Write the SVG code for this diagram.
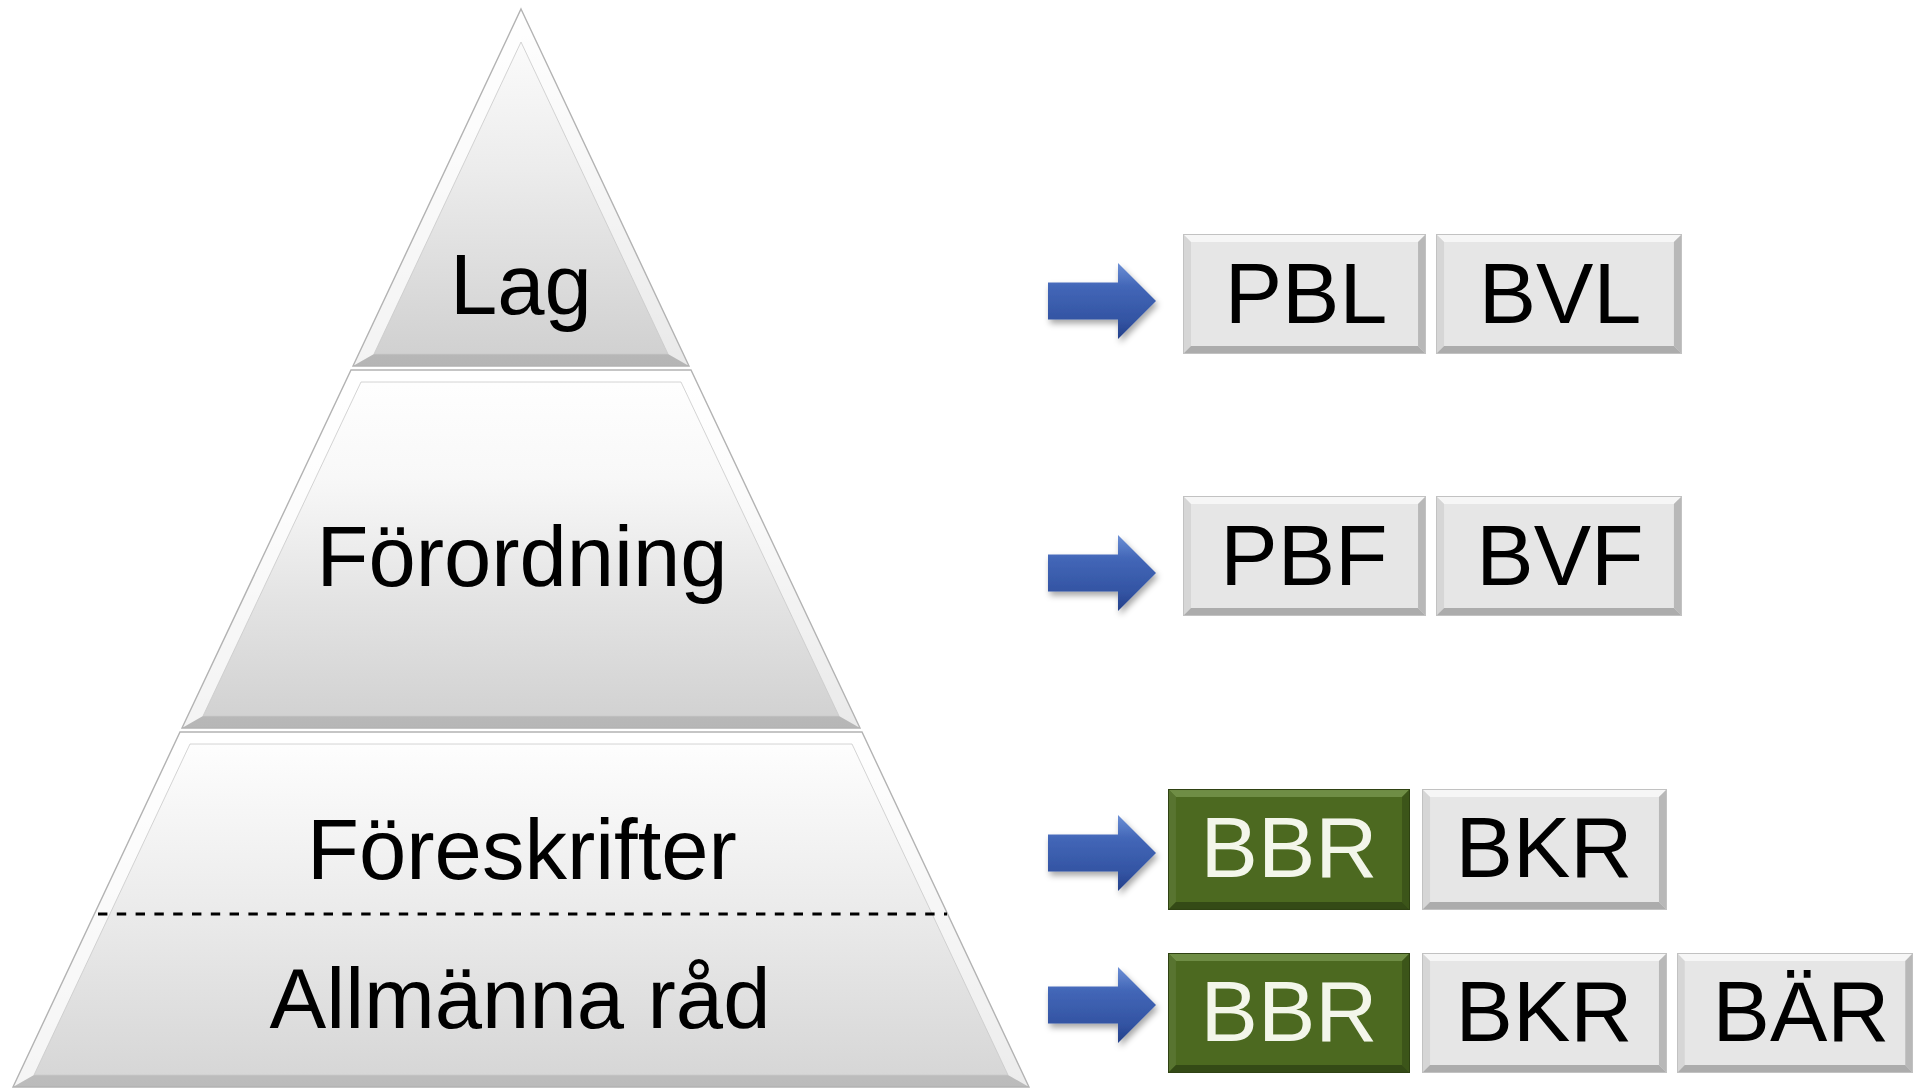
<svg xmlns="http://www.w3.org/2000/svg" xmlns:xlink="http://www.w3.org/1999/xlink" width="1915" height="1088" viewBox="0 0 1915 1088">
  <style>
    .lbl { font-family: "Liberation Sans", Arial, sans-serif; font-size: 86px; text-anchor: middle; fill: #000000; }
    .plbl { font-size: 85px; }
    .lblw { fill: #f3f6ea; }
    .edge { fill: none; stroke: #b3b3b3; stroke-width: 1.4; }
    .fl { fill: #ffffff; fill-opacity: 0.75; }
    .fr { fill: #ffffff; fill-opacity: 0.55; }
    .ft { fill: #ffffff; fill-opacity: 0.8; }
    .fb { fill: #000000; fill-opacity: 0.12; }
    .inner { fill: none; stroke: #c9c9c9; stroke-width: 0.8; }
  </style>
  <defs>
    <linearGradient id="gLag" x1="0" y1="0" x2="0" y2="1">
      <stop offset="0" stop-color="#ffffff"/>
      <stop offset="0.45" stop-color="#ececec"/>
      <stop offset="1" stop-color="#cfcfcf"/>
    </linearGradient>
    <linearGradient id="gMid" x1="0" y1="0" x2="0" y2="1">
      <stop offset="0" stop-color="#ffffff"/>
      <stop offset="0.3" stop-color="#f8f8f8"/>
      <stop offset="0.65" stop-color="#e3e3e3"/>
      <stop offset="1" stop-color="#d0d0d0"/>
    </linearGradient>
    <linearGradient id="gBot" x1="0" y1="0" x2="0" y2="1">
      <stop offset="0" stop-color="#ffffff"/>
      <stop offset="0.5" stop-color="#ebebeb"/>
      <stop offset="1" stop-color="#d5d5d5"/>
    </linearGradient>
    <linearGradient id="gArrow" x1="0" y1="0" x2="0" y2="1">
      <stop offset="0" stop-color="#6d90d6"/>
      <stop offset="0.3" stop-color="#4367b8"/>
      <stop offset="0.75" stop-color="#3354a3"/>
      <stop offset="1" stop-color="#24408a"/>
    </linearGradient>
    <filter id="shadow" x="-20%" y="-30%" width="150%" height="170%">
      <feDropShadow dx="2" dy="4" stdDeviation="3" flood-color="#000000" flood-opacity="0.35"/>
    </filter>
    <path id="arrowShape" d="M1048,-18.5 L1118,-18.5 L1118,-38 L1156,0 L1118,38 L1118,18.5 L1048,18.5 Z"/>
    <symbol id="bevelGray" viewBox="0 0 244 120" preserveAspectRatio="none">
      <rect width="244" height="120" fill="#e6e6e6"/>
      <polygon points="0,0 244,0 236,8 8,8" fill="#f6f6f6"/>
      <polygon points="0,0 8,8 8,112 0,120" fill="#d6d6d6"/>
      <polygon points="244,0 244,120 236,112 236,8" fill="#b8b8b8"/>
      <polygon points="0,120 8,112 236,112 244,120" fill="#acacac"/>
      <rect x="0.5" y="0.5" width="243" height="119" fill="none" stroke="#c2c2c2" stroke-width="1"/>
    </symbol>
    <symbol id="bevelGreen" viewBox="0 0 244 120" preserveAspectRatio="none">
      <rect width="244" height="120" fill="#4c6920"/>
      <polygon points="0,0 244,0 236,8 8,8" fill="#6f8d45"/>
      <polygon points="0,0 8,8 8,112 0,120" fill="#587430"/>
      <polygon points="244,0 244,120 236,112 236,8" fill="#3c5519"/>
      <polygon points="0,120 8,112 236,112 244,120" fill="#344a16"/>
      <rect x="0.5" y="0.5" width="243" height="119" fill="none" stroke="#2f4213" stroke-width="1"/>
    </symbol>
  </defs>

  <rect width="1915" height="1088" fill="#ffffff"/>

  <g id="pyramid">
    <g id="level-lag">
      <polygon points="521,9 689,366 353,366" fill="url(#gLag)"/>
      <polygon class="fl" points="521,9 521,42 374,354 353,366"/>
      <polygon class="fr" points="521,9 689,366 668,354 521,42"/>
      <polygon class="fb" points="353,366 374,354 668,354 689,366"/>
      <polygon class="inner" points="521,42 668,354 374,354"/>
      <polygon class="edge" points="521,9 689,366 353,366"/>
      <text class="lbl plbl" x="521" y="314">Lag</text>
    </g>
    <g id="level-forordning">
      <polygon points="351,370 691,370 860,728 182,728" fill="url(#gMid)"/>
      <polygon class="ft" points="351,370 691,370 681,382 361,382"/>
      <polygon class="fl" points="351,370 361,382 203,716 182,728"/>
      <polygon class="fr" points="691,370 860,728 839,716 681,382"/>
      <polygon class="fb" points="182,728 203,716 839,716 860,728"/>
      <polygon class="inner" points="361,382 681,382 839,716 203,716"/>
      <polygon class="edge" points="351,370 691,370 860,728 182,728"/>
      <text class="lbl plbl" x="522" y="586">Förordning</text>
    </g>
    <g id="level-foreskrifter-allmanna-rad">
      <polygon points="180,732 862,732 1029,1087 13,1087" fill="url(#gBot)"/>
      <polygon class="ft" points="180,732 862,732 852,744 190,744"/>
      <polygon class="fl" points="180,732 190,744 34,1075 13,1087"/>
      <polygon class="fr" points="862,732 1029,1087 1008,1075 852,744"/>
      <polygon class="fb" points="13,1087 34,1075 1008,1075 1029,1087"/>
      <polygon class="inner" points="190,744 852,744 1008,1075 34,1075"/>
      <polygon class="edge" points="180,732 862,732 1029,1087 13,1087"/>
      <text class="lbl plbl" x="522" y="879">Föreskrifter</text>
      <line x1="98" y1="914" x2="947" y2="914" stroke="#000000" stroke-width="3" stroke-dasharray="9.4 9.4"/>
      <text class="lbl plbl" x="520" y="1028">Allmänna råd</text>
    </g>
  </g>

  <g id="connectors">
    <use href="#arrowShape" xlink:href="#arrowShape" y="301" fill="url(#gArrow)" filter="url(#shadow)"/>
    <use href="#arrowShape" xlink:href="#arrowShape" y="573" fill="url(#gArrow)" filter="url(#shadow)"/>
    <use href="#arrowShape" xlink:href="#arrowShape" y="853" fill="url(#gArrow)" filter="url(#shadow)"/>
    <use href="#arrowShape" xlink:href="#arrowShape" y="1005" fill="url(#gArrow)" filter="url(#shadow)"/>
  </g>

  <g id="box-PBL">
    <use href="#bevelGray" xlink:href="#bevelGray" x="1183" y="234" width="243" height="120"/>
    <text class="lbl" x="1306" y="323">PBL</text>
  </g>
  <g id="box-BVL">
    <use href="#bevelGray" xlink:href="#bevelGray" x="1436" y="234" width="246" height="120"/>
    <text class="lbl" x="1560" y="323">BVL</text>
  </g>
  <g id="box-PBF">
    <use href="#bevelGray" xlink:href="#bevelGray" x="1183" y="496" width="243" height="120"/>
    <text class="lbl" x="1304" y="585">PBF</text>
  </g>
  <g id="box-BVF">
    <use href="#bevelGray" xlink:href="#bevelGray" x="1436" y="496" width="246" height="120"/>
    <text class="lbl" x="1560" y="585">BVF</text>
  </g>
  <g id="box-BBR-foreskrifter">
    <use href="#bevelGreen" xlink:href="#bevelGreen" x="1168" y="789" width="242" height="121"/>
    <text class="lbl lblw" x="1289" y="877">BBR</text>
  </g>
  <g id="box-BKR-foreskrifter">
    <use href="#bevelGray" xlink:href="#bevelGray" x="1422" y="789" width="245" height="121"/>
    <text class="lbl" x="1544" y="877">BKR</text>
  </g>
  <g id="box-BBR-allmanna-rad">
    <use href="#bevelGreen" xlink:href="#bevelGreen" x="1168" y="953" width="242" height="120"/>
    <text class="lbl lblw" x="1289" y="1041">BBR</text>
  </g>
  <g id="box-BKR-allmanna-rad">
    <use href="#bevelGray" xlink:href="#bevelGray" x="1422" y="953" width="245" height="120"/>
    <text class="lbl" x="1544" y="1041">BKR</text>
  </g>
  <g id="box-BAR">
    <use href="#bevelGray" xlink:href="#bevelGray" x="1677" y="953" width="236" height="120"/>
    <text class="lbl" x="1801" y="1041">BÄR</text>
  </g>
</svg>
